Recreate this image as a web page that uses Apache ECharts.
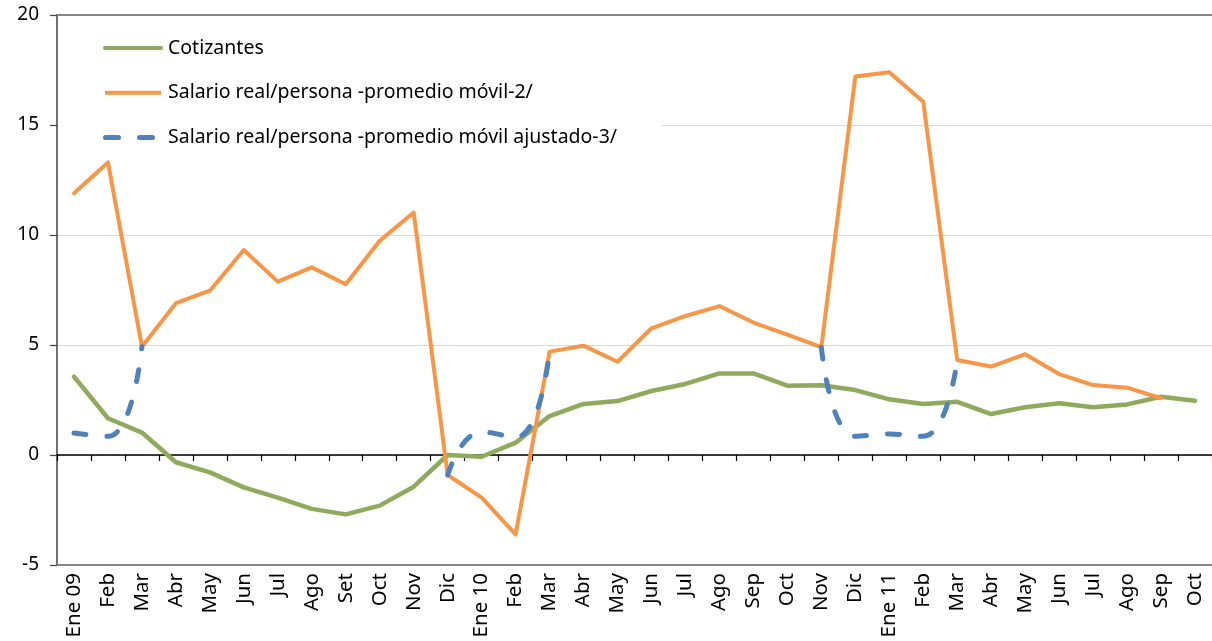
<!DOCTYPE html>
<html><head><meta charset="utf-8">
<script src="https://cdn.jsdelivr.net/npm/echarts@6/dist/echarts.min.js"></script>
<style>html,body{margin:0;padding:0;background:#fff}#c{width:1212px;height:641px}</style>
</head><body><div id="c"></div>
<script>
const categories = ['Ene 09','Feb','Mar','Abr','May','Jun','Jul','Ago','Set','Oct','Nov','Dic',
  'Ene 10','Feb','Mar','Abr','May','Jun','Jul','Ago','Sep','Oct','Nov','Dic',
  'Ene 11','Feb','Mar','Abr','May','Jun','Jul','Ago','Sep','Oct'];
const cotizantes = [3.56, 1.67, 1.02, -0.33, -0.79, -1.47, -1.94, -2.45, -2.70, -2.30, -1.44, 0.0,
  -0.08, 0.56, 1.77, 2.32, 2.45, 2.91, 3.23, 3.71, 3.71, 3.15, 3.17, 2.95,
  2.53, 2.32, 2.42, 1.86, 2.17, 2.35, 2.17, 2.30, 2.65, 2.47];
const salario = [11.9, 13.3, 4.92, 6.9, 7.47, 9.32, 7.88, 8.53, 7.76, 9.74, 11.02, -0.91,
  -1.94, -3.61, 4.70, 4.97, 4.24, 5.76, 6.32, 6.77, 6.02, 5.47, 4.9, 17.2,
  17.4, 16.06, 4.32, 4.02, 4.58, 3.68, 3.18, 3.06, 2.58, null];
const ajustado = [1.0, 0.85, 4.92, null, null, null, null, null, null, null, null, -0.91,
  1.05, 0.8, 4.70, null, null, null, null, null, null, null, 4.9, 0.85,
  0.95, 0.85, 4.32, null, null, null, null, null, null, null];
const seriesNames = ['Cotizantes', 'Salario real/persona -promedio móvil-2/', 'Salario real/persona -promedio móvil ajustado-3/'];
const yMin = -5, yMax = 20, yStep = 5;

const font = 'Noto Sans';
const colors = ['#8FAA5C', '#F79646', '#4F81BD'];
// legend glyphs (tiny end marks keep every icon the same 60px-wide box)
const ends = 'M0,2h0.05v0.05h-0.05z M59.95,2h0.05v0.05h-0.05z ';
const icons = [
  'path://' + ends + 'M2,0h56a2,2 0 0 1 0,4h-56a2,2 0 0 1 0,-4z',
  'path://' + ends + 'M2,0h56v4h-56z',
  'path://' + ends + 'M2.5,-0.5h13a2.5,2.5 0 0 1 0,5h-13a2.5,2.5 0 0 1 0,-5z M36.5,-0.5h13a2.5,2.5 0 0 1 0,5h-13a2.5,2.5 0 0 1 0,-5z'
];

const chart = echarts.init(document.getElementById('c'), null, {renderer: 'canvas'});
chart.setOption({
  animation: false,
  backgroundColor: '#fff',
  textStyle: {fontFamily: font},
  grid: {left: 57, right: -7, top: 15, bottom: 76, show: false},
  legend: {
    orient: 'vertical', left: 58, top: 17, padding: [20, 45, 6, 45], itemGap: 22.7,
    itemWidth: 60, itemHeight: 22, backgroundColor: '#fff',
    textStyle: {fontSize: 19.5, color: '#000', lineHeight: 22, fontFamily: font},
    data: seriesNames.map((n, i) => ({name: n, icon: icons[i], itemStyle: {color: colors[i], borderWidth: 0}}))
  },
  xAxis: [
    {type: 'category', data: categories, boundaryGap: true, position: 'bottom',
     axisLine: {onZero: true, lineStyle: {color: '#000', width: 1.5}},
     axisTick: {show: true, length: 6, interval: 0, lineStyle: {color: '#000', width: 1.2}},
     axisLabel: {show: false}, splitLine: {show: false}},
    {type: 'category', data: categories, position: 'bottom', boundaryGap: true,
     axisLine: {show: true, onZero: false, lineStyle: {color: '#868686', width: 2}}, axisTick: {show: false},
     axisLabel: {rotate: 90, fontSize: 20.5, color: '#000', margin: 8, interval: 0, fontFamily: font}},
    {type: 'category', data: categories, position: 'top', boundaryGap: true,
     axisLine: {show: true, onZero: false, lineStyle: {color: '#868686', width: 2}}, axisTick: {show: false},
     axisLabel: {show: false}}
  ],
  yAxis: {type: 'value', min: yMin, max: yMax, interval: yStep,
    axisLine: {show: true, lineStyle: {color: '#404040', width: 1.5}},
    axisTick: {show: true, length: 7, lineStyle: {color: '#404040', width: 1.2}},
    axisLabel: {fontSize: 19, color: '#000', margin: 18, fontFamily: font},
    splitLine: {lineStyle: {color: '#d9d9d9', width: 1}}},
  series: [
    {name: seriesNames[0], type: 'line', data: cotizantes, showSymbol: false, symbol: 'none',
     lineStyle: {color: colors[0], width: 4.5, join: 'round', cap: 'round'}, itemStyle: {color: colors[0]}},
    {name: seriesNames[1], type: 'line', data: salario, showSymbol: false, symbol: 'none',
     lineStyle: {color: colors[1], width: 4, join: 'round', cap: 'round'}, itemStyle: {color: colors[1]}},
    {name: seriesNames[2], type: 'line', data: ajustado, showSymbol: false, symbol: 'none', smooth: 0.5,
     lineStyle: {color: colors[2], width: 5, type: [12, 21], cap: 'round', join: 'round'}, itemStyle: {color: colors[2]}}
  ]
});
</script></body></html>
